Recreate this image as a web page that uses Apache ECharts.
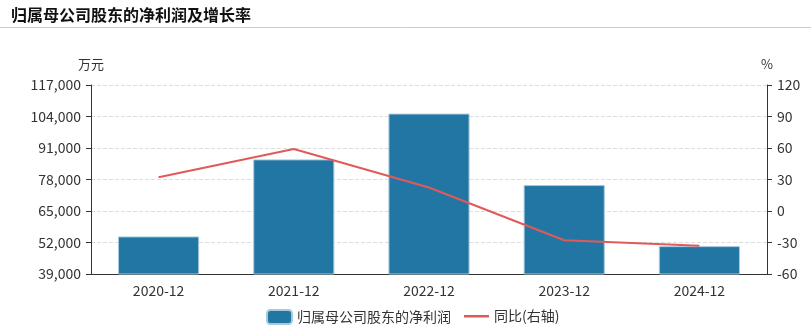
<!DOCTYPE html>
<html>
<head>
<meta charset="utf-8">
<script src="https://cdn.jsdelivr.net/npm/echarts@6/dist/echarts.min.js"></script>
<style>
html,body{margin:0;padding:0;background:#fff;}
#c{width:811px;height:331px;}
</style>
</head>
<body>
<div id="c"></div>
<script>
const categories = ['2020-12', '2021-12', '2022-12', '2023-12', '2024-12'];
const netProfit = [54500, 86300, 105200, 75700, 50500];
const yoy = [32.1, 59.0, 22.4, -27.9, -33.2];
const leftTicks = { min: 39000, max: 117000, interval: 13000 };
const rightTicks = { min: -60, max: 120, interval: 30 };

const font = '"Microsoft YaHei","Noto Sans CJK SC",sans-serif';
const chart = echarts.init(document.getElementById('c'));
chart.setOption({
  animation: false,
  textStyle: { fontFamily: font },
  title: {
    text: '归属母公司股东的净利润及增长率',
    left: 6, top: 2,
    textStyle: { fontSize: 16, fontWeight: 'bold', color: '#111', fontFamily: font }
  },
  graphic: [{
    type: 'line', shape: { x1: 0, y1: 27.5, x2: 811, y2: 27.5 },
    style: { stroke: '#ccc', lineWidth: 1 }
  }],
  legend: [{
    top: 304, left: 261,
    itemWidth: 25, itemHeight: 14, itemGap: 10,
    textStyle: { fontSize: 14, color: '#333', fontFamily: font },
    data: [{ name: '归属母公司股东的净利润', icon: 'roundRect' }]
  }, {
    top: 304, left: 459,
    itemWidth: 25, itemHeight: 14,
    textStyle: { fontSize: 14, color: '#333', fontFamily: font },
    data: [{ name: '同比(右轴)', icon: 'path://M0,6 L25,6 L25,8.5 L0,8.5 Z M0,0 L0.01,0 L0.01,0.01 Z M0,14 L0.01,14 L0.01,13.99 Z' }]
  }],
  grid: { left: 91, right: 44, top: 85, bottom: 57 },
  xAxis: {
    type: 'category', data: categories,
    axisLine: { onZero: false, lineStyle: { color: '#333' } },
    axisTick: { alignWithLabel: true, lineStyle: { color: '#333' } },
    axisLabel: { fontSize: 14, color: '#333', margin: 10 }
  },
  yAxis: [{
    type: 'value', name: '万元', nameGap: 14,
    nameTextStyle: { fontSize: 13, color: '#333', align: 'center' },
    min: leftTicks.min, max: leftTicks.max, interval: leftTicks.interval,
    axisLine: { show: true, lineStyle: { color: '#333' } },
    axisTick: { show: true, length: 5, lineStyle: { color: '#333' } },
    axisLabel: { fontSize: 14, color: '#333', margin: 10,
      formatter: v => v.toLocaleString('en-US') },
    splitLine: { lineStyle: { type: 'dashed', color: '#ddd' } }
  }, {
    type: 'value', name: '%', nameGap: 14,
    nameTextStyle: { fontSize: 13, color: '#333', align: 'center' },
    min: rightTicks.min, max: rightTicks.max, interval: rightTicks.interval,
    axisLine: { show: true, lineStyle: { color: '#333' } },
    axisTick: { show: true, length: 5, lineStyle: { color: '#333' } },
    axisLabel: { fontSize: 14, color: '#333', margin: 10 },
    splitLine: { show: false }
  }],
  series: [{
    name: '归属母公司股东的净利润', type: 'bar', data: netProfit,
    barWidth: '60%',
    itemStyle: { color: '#2276a3', borderColor: '#a6c9de', borderWidth: 1 }
  }, {
    name: '同比(右轴)', type: 'line', yAxisIndex: 1, data: yoy,
    symbol: 'none', smooth: false,
    lineStyle: { color: '#e15a5a', width: 2 },
    itemStyle: { color: '#e15a5a' }
  }]
});
</script>
</body>
</html>
